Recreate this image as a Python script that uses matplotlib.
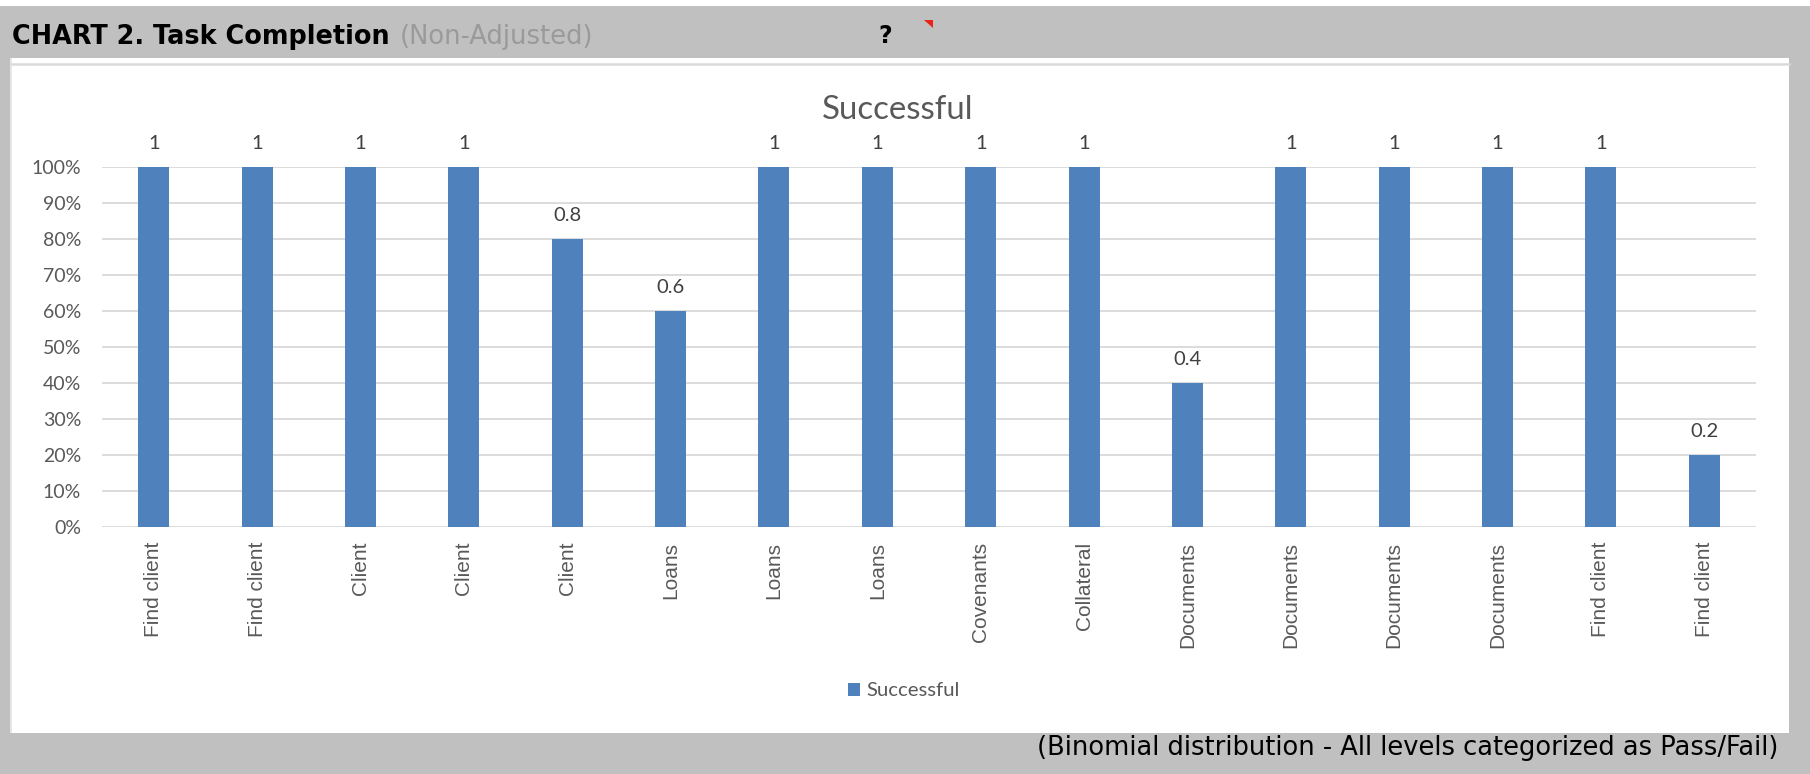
import matplotlib
matplotlib.use("Agg")
import matplotlib.pyplot as plt
from matplotlib.patches import Rectangle, Polygon, Patch
from matplotlib.ticker import PercentFormatter, MultipleLocator

# ---- data ----
categories = ["Find client", "Find client", "Client", "Client", "Client", "Loans",
              "Loans", "Loans", "Covenants", "Collateral", "Documents", "Documents",
              "Documents", "Documents", "Find client", "Find client"]
successful = [1, 1, 1, 1, 0.8, 0.6, 1, 1, 1, 1, 0.4, 1, 1, 1, 1, 0.2]
series_name = "Successful"
header_title = "CHART 2. Task Completion"
header_sub = "(Non-Adjusted)"
footer_note = "(Binomial distribution - All levels categorized as Pass/Fail)"

W, H = 1810, 774
DPI = 100
BAR = "#4F81BD"
GRAY_BG = "#C0C0C0"

fig = plt.figure(figsize=(W / DPI, H / DPI), dpi=DPI)
fig.patch.set_facecolor(GRAY_BG)

# background overlay in pixel coordinates
bg = fig.add_axes([0, 0, 1, 1], zorder=0)
bg.set_xlim(0, W)
bg.set_ylim(H, 0)
bg.axis("off")
bg.add_patch(Rectangle((0, 0), W, 6, facecolor="white", edgecolor="none"))
bg.add_patch(Rectangle((10, 58), 1779, 675, facecolor="#E6E6E6", edgecolor="none"))
bg.add_patch(Rectangle((12, 58), 1777, 675, facecolor="white", edgecolor="none"))
bg.plot([12, 1789], [63.5, 63.5], color="#DADADA", lw=1.8)
bg.add_patch(Polygon([[924, 20], [933, 20], [933, 28]], closed=True,
                     facecolor="#E8231B", edgecolor="none"))

t1 = bg.text(12, 37, header_title, fontsize=18.4, fontweight="bold",
             family="DejaVu Sans", color="black", va="center", ha="left")
fig.canvas.draw()
bb = t1.get_window_extent()
bg.text(bb.x1 + 10, 37, header_sub, fontsize=18.6, family="DejaVu Sans",
        color="#9A9A9A", va="center", ha="left")
bg.text(885, 36, "?", fontsize=17, fontweight="bold", family="DejaVu Sans",
        color="black", va="center", ha="center")
bg.text(1778, 748, footer_note, fontsize=18.5, family="DejaVu Sans",
        color="black", va="center", ha="right")

# main chart axes
left, right = 102, 1756
top, bottom = 167, 527
ax = fig.add_axes([left / W, 1 - bottom / H, (right - left) / W, (bottom - top) / H],
                  zorder=2)
ax.set_facecolor("none")
x = range(len(categories))
bars = ax.bar(x, successful, width=0.30, color=BAR, zorder=3, clip_on=False)
ax.set_xlim(-0.5, len(categories) - 0.5)
ax.set_ylim(0, 1)
ax.yaxis.set_major_locator(MultipleLocator(0.1))
ax.yaxis.set_major_formatter(PercentFormatter(1.0, decimals=0))
ax.grid(axis="y", color="#D9D9D9", lw=1.3, zorder=0)
for s in ax.spines.values():
    s.set_visible(False)
ax.set_xticks(list(x))
ax.set_xticklabels(categories, rotation=90, fontsize=15, family="Liberation Sans",
                   color="#595959", va="top")
ax.tick_params(axis="x", length=0, pad=10.5)
ax.tick_params(axis="y", length=0, pad=15, labelsize=14, labelcolor="#595959")
for lab in ax.get_yticklabels():
    lab.set_family("Lato")

for xi, v in zip(x, successful):
    ax.annotate(f"{v:g}", (xi, v), xytext=(0, 13), textcoords="offset points",
                ha="center", va="baseline", fontsize=14.5, family="Lato",
                color="#404040", annotation_clip=False)

bg.text(898, 110, series_name, fontsize=23.8, family="Lato", color="#595959",
        va="center", ha="center")

leg = fig.legend(handles=[Patch(facecolor=BAR, edgecolor="none", label=series_name)],
                 loc="center", bbox_to_anchor=(904 / W, 1 - 691 / H), frameon=False,
                 handlelength=0.6, handleheight=0.6, handletextpad=0.3,
                 prop={"family": "Lato", "size": 14.6})
for t in leg.get_texts():
    t.set_color("#595959")

fig.savefig("out.png", dpi=DPI, facecolor=fig.get_facecolor())
